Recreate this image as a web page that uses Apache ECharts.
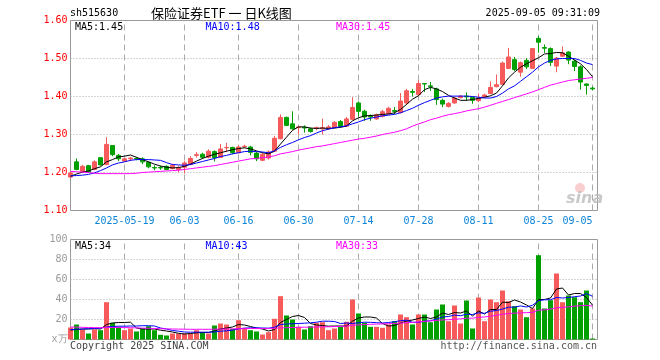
<!DOCTYPE html>
<html><head><meta charset="utf-8">
<script src="https://cdn.jsdelivr.net/npm/echarts@6/dist/echarts.min.js"></script>
<style>html,body{margin:0;padding:0;background:#fff}#c{width:660px;height:360px}</style>
</head><body><div id="c"></div>
<script>
const symbolCode = 'sh515630';
const titleText = '保险证券ETF 一 日K线图';
const timeText = '2025-09-05 09:31:09';
const dates = ['2025-05-06','2025-05-07','2025-05-08','2025-05-09','2025-05-12','2025-05-13','2025-05-14','2025-05-15','2025-05-16','2025-05-19','2025-05-20','2025-05-21','2025-05-22','2025-05-23','2025-05-26','2025-05-27','2025-05-28','2025-05-29','2025-05-30',
'2025-06-03','2025-06-04','2025-06-05','2025-06-06','2025-06-09','2025-06-10','2025-06-11','2025-06-12','2025-06-13','2025-06-16','2025-06-17','2025-06-18','2025-06-19','2025-06-20','2025-06-23','2025-06-24','2025-06-25','2025-06-26','2025-06-27','2025-06-30',
'2025-07-01','2025-07-02','2025-07-03','2025-07-04','2025-07-07','2025-07-08','2025-07-09','2025-07-10','2025-07-11','2025-07-14','2025-07-15','2025-07-16','2025-07-17','2025-07-18','2025-07-21','2025-07-22','2025-07-23','2025-07-24','2025-07-25','2025-07-28','2025-07-29','2025-07-30','2025-07-31',
'2025-08-01','2025-08-04','2025-08-05','2025-08-06','2025-08-07','2025-08-08','2025-08-11','2025-08-12','2025-08-13','2025-08-14','2025-08-15','2025-08-18','2025-08-19','2025-08-20','2025-08-21','2025-08-22','2025-08-25','2025-08-26','2025-08-27','2025-08-28','2025-08-29',
'2025-09-01','2025-09-02','2025-09-03','2025-09-04','2025-09-05'];
const tickDates = ['2025-05-19','2025-06-03','2025-06-16','2025-06-30','2025-07-14','2025-07-28','2025-08-11','2025-08-25','2025-09-05'];
const priceTicks = [1.10,1.20,1.30,1.40,1.50,1.60];
const volTicks = [0,20,40,60,80,100];

const opens = [1.188,1.228,1.203,1.218,1.208,1.239,1.221,1.271,1.245,1.230,
1.236,1.237,1.236,1.227,1.213,1.213,1.216,1.210,1.208,1.214,
1.221,1.245,1.248,1.240,1.255,1.240,1.265,1.266,1.252,1.268,
1.267,1.251,1.232,1.238,1.256,1.289,1.345,1.328,1.318,1.319,
1.315,1.316,1.315,1.317,1.318,1.334,1.322,1.340,1.383,1.361,
1.348,1.341,1.348,1.354,1.363,1.358,1.383,1.413,1.405,1.434,
1.428,1.420,1.390,1.374,1.383,1.397,1.401,1.398,1.389,1.399,
1.408,1.426,1.432,1.474,1.497,1.464,1.495,1.474,1.553,1.529,
1.526,1.480,1.506,1.517,1.493,1.478,1.433,1.422];
const closes = [1.199,1.208,1.216,1.201,1.228,1.220,1.274,1.247,1.236,1.236,
1.238,1.236,1.228,1.215,1.212,1.212,1.208,1.219,1.212,1.225,
1.237,1.247,1.240,1.256,1.239,1.262,1.266,1.252,1.267,1.269,
1.253,1.236,1.248,1.254,1.290,1.345,1.324,1.315,1.320,1.317,
1.308,1.318,1.318,1.320,1.332,1.321,1.341,1.371,1.361,1.346,
1.346,1.352,1.360,1.369,1.361,1.388,1.415,1.411,1.434,1.433,
1.426,1.392,1.380,1.382,1.396,1.401,1.399,1.390,1.396,1.404,
1.424,1.431,1.488,1.504,1.471,1.489,1.478,1.526,1.543,1.527,
1.490,1.501,1.515,1.496,1.479,1.438,1.429,1.420];
const lows = [1.184,1.206,1.199,1.200,1.206,1.218,1.219,1.243,1.230,1.228,
1.230,1.232,1.222,1.211,1.206,1.207,1.206,1.209,1.200,1.197,
1.219,1.239,1.236,1.237,1.229,1.239,1.254,1.248,1.250,1.264,
1.245,1.230,1.230,1.234,1.254,1.287,1.322,1.313,1.300,1.305,
1.305,1.311,1.300,1.312,1.316,1.318,1.320,1.338,1.348,1.336,
1.336,1.339,1.345,1.351,1.353,1.355,1.378,1.400,1.402,1.412,
1.415,1.378,1.372,1.371,1.381,1.395,1.388,1.381,1.385,1.397,
1.406,1.424,1.430,1.472,1.467,1.452,1.472,1.472,1.515,1.515,
1.480,1.464,1.504,1.485,1.467,1.418,1.405,1.416];
const highs = [1.201,1.237,1.220,1.220,1.232,1.240,1.293,1.272,1.249,1.238,
1.241,1.240,1.240,1.229,1.219,1.218,1.219,1.223,1.218,1.230,
1.243,1.254,1.252,1.261,1.258,1.275,1.278,1.268,1.271,1.273,
1.270,1.255,1.252,1.258,1.296,1.353,1.347,1.361,1.324,1.324,
1.318,1.321,1.342,1.325,1.335,1.338,1.346,1.398,1.387,1.365,
1.353,1.355,1.365,1.373,1.372,1.409,1.420,1.420,1.443,1.435,
1.438,1.423,1.394,1.385,1.398,1.404,1.411,1.400,1.408,1.407,
1.440,1.458,1.492,1.528,1.504,1.492,1.501,1.527,1.559,1.537,
1.529,1.504,1.532,1.519,1.497,1.482,1.434,1.426];
const ma5 = [1.190,1.196,1.201,1.204,1.210,1.215,1.228,1.234,1.241,1.243,
1.246,1.240,1.234,1.228,1.222,1.217,1.214,1.212,1.213,1.216,
1.222,1.230,1.237,1.243,1.248,1.252,1.256,1.260,1.263,1.265,
1.262,1.257,1.252,1.249,1.256,1.275,1.293,1.311,1.320,1.320,
1.317,1.316,1.317,1.316,1.317,1.319,1.322,1.336,1.344,1.349,
1.350,1.351,1.353,1.354,1.357,1.366,1.379,1.393,1.402,1.418,
1.424,1.420,1.413,1.403,1.396,1.390,1.390,1.392,1.395,1.398,
1.402,1.409,1.428,1.449,1.464,1.477,1.486,1.494,1.502,1.512,
1.513,1.516,1.515,1.506,1.496,1.486,1.471,1.452];
const ma10 = [1.191,1.192,1.193,1.195,1.199,1.205,1.212,1.220,1.225,1.228,
1.232,1.234,1.234,1.234,1.233,1.232,1.226,1.221,1.220,1.219,
1.221,1.225,1.229,1.233,1.237,1.242,1.245,1.249,1.252,1.255,
1.256,1.255,1.254,1.252,1.257,1.266,1.273,1.279,1.286,1.292,
1.297,1.304,1.310,1.314,1.318,1.320,1.323,1.328,1.333,1.339,
1.343,1.346,1.349,1.351,1.353,1.357,1.363,1.369,1.377,1.384,
1.390,1.396,1.399,1.401,1.401,1.401,1.401,1.400,1.398,1.396,
1.396,1.400,1.409,1.420,1.428,1.440,1.452,1.464,1.478,1.488,
1.495,1.499,1.500,1.500,1.500,1.495,1.488,1.484];
const ma30 = [1.203,1.202,1.201,1.200,1.198,1.197,1.197,1.197,1.197,1.197,
1.197,1.198,1.200,1.201,1.202,1.203,1.204,1.205,1.206,1.208,
1.210,1.212,1.214,1.216,1.218,1.221,1.224,1.227,1.230,1.233,
1.236,1.237,1.239,1.241,1.244,1.249,1.252,1.255,1.259,1.262,
1.265,1.268,1.270,1.273,1.276,1.279,1.282,1.285,1.288,1.290,
1.293,1.296,1.300,1.303,1.306,1.310,1.315,1.322,1.328,1.333,
1.339,1.343,1.348,1.352,1.355,1.358,1.362,1.365,1.368,1.372,
1.377,1.382,1.387,1.392,1.397,1.402,1.407,1.412,1.418,1.424,
1.430,1.434,1.438,1.442,1.444,1.446,1.448,1.450];
const vols = [12,15,10,6,10,9.3,37.3,16.7,12.7,9.3,
11,8,11.3,13.3,9.3,4.7,4,6,6,6,
6,9.3,7.3,6,14,16,15,10.7,19.3,11.7,
9.3,8,5,7.3,20.7,43.3,24,20,12.7,10,
13.3,16.7,17.3,9.3,11,12.7,17.7,40,26,16.7,
12.7,12.7,11.7,15,18.3,25,22.3,15,25,25,
17.3,30,35,18.3,34,16,39,11,42,18.3,
40,37.3,49,38.3,33.3,30,22.3,31,84.3,31,
39.3,66,37.3,44,42.3,37.3,49,1];
const vma5 = [9.5,10,10.5,10.5,10.8,10.5,15,16.5,17,17,
17.3,11.5,10.5,10.5,10.5,9.3,8.5,7.5,6.2,5.5,
6,6.7,7,7,8.5,10.5,11.5,12.5,15,14.5,
13,11.5,10.5,8.5,10,17,20,23,24,22,
16,14.5,14,13.3,13.5,13.5,13.5,18.3,21.5,22.5,
22.5,21.5,16,13.5,14,16.5,18.5,19.5,21,22.5,
21,22.5,26.5,25,27,26.5,28.5,23.5,28.5,25.5,
30,30,37.3,37,39.5,37.5,34.5,31,40,40,
41.5,50.5,51.5,44.5,46,46,42,34.3];
const vma10 = [10,10.2,10.5,10.8,11,11.3,12.5,13,13.3,13.3,
13.5,13.5,13.8,13.8,13.5,11.5,10.5,9,8.3,7.5,
7.3,7.3,7.3,7.3,7.5,8.3,8.7,9.3,10.7,11.3,
11.7,11.7,11.5,11.3,12.3,15,15.5,15.8,16,16.3,
16.7,17.3,18.3,18.3,18,16,16.5,16,16.8,17.3,
17.2,16.8,16.5,17,17.8,18.8,19.3,17.2,17.2,18.3,
18.7,20.5,22.5,23,24.5,23.8,25.3,25,26.7,26.2,
28.3,29,30.4,32.3,32.4,33.6,32.5,34.2,38.8,39.7,
39.8,42,41.5,42,42.8,43.5,46,43.2];
const vma30 = [12.5,12.4,12.2,12.0,11.9,11.8,12.0,12.0,12.0,11.9,
11.8,11.6,11.4,11.2,11.0,10.8,10.6,10.5,10.4,10.3,
10.2,10.2,10.2,10.2,10.3,10.4,10.5,10.6,10.8,10.9,
11.0,11.0,11.0,11.1,11.3,11.6,11.8,12.0,12.2,12.3,
12.4,12.5,12.6,12.7,12.9,13.1,13.4,14.2,14.6,14.9,
15.2,15.4,15.6,15.8,16.0,16.4,16.8,17.1,17.6,18.2,
18.6,19.1,19.6,19.8,20.4,20.6,21.3,21.3,22.2,22.5,
23.3,24.2,25.3,25.9,26.4,26.6,26.9,27.1,29.4,29.6,
30.5,31.7,32.1,32.7,33.3,33.8,34.2,33.4];

const MONO = 'DejaVu Sans Mono';
const UP = '#f65a5a', DOWN = '#00a000';
const C5 = '#000000', C10 = '#0000ff', C30 = '#ff00ff';
const GRIDC = '#aaaaaa';
const tickIdx = tickDates.map(d => dates.indexOf(d));
const isTick = i => tickIdx.indexOf(i) >= 0;
const last = dates.length - 1;
const pMin = priceTicks[0], pMax = priceTicks[priceTicks.length - 1];
const vMin = volTicks[0], vMax = volTicks[volTicks.length - 1];
const kdata = dates.map((d, i) => [opens[i], closes[i], lows[i], highs[i]]);
const volData = vols.map((v, i) => ({ value: v, itemStyle: { color: closes[i] >= opens[i] ? UP : DOWN } }));

const NO = () => ({ show: false });
const lineS = (name, data, color, xi) => ({ type: 'line', name, data, xAxisIndex: xi, yAxisIndex: xi, showSymbol: false, symbol: 'none', silent: true, lineStyle: { color, width: 1 }, z: 5 });
const guide = (ai, data, dashArr) => ({ type: 'line', xAxisIndex: ai, yAxisIndex: ai, data, showSymbol: false, symbol: 'none', silent: true, z: 1, lineStyle: { color: GRIDC, width: 1, type: dashArr } });
const txt = (x, y, text, fill, extra) => ({ type: 'text', x, y, z: 10, style: Object.assign({ text, fill, font: '10px "' + MONO + '"', textVerticalAlign: 'middle', verticalAlign: 'middle' }, extra || {}) });

// grid guide lines (dashed verticals at date ticks, dotted horizontals at value ticks)
const guides = [];
tickIdx.forEach(ix => {
  guides.push(guide(0, [[ix, pMin], [ix, pMax]], [6, 4]));
  guides.push(guide(1, [[ix, vMin], [ix, vMax]], [6, 4]));
});
priceTicks.slice(1, -1).forEach(p => guides.push(guide(2, [[0, p], [1, p]], [1, 2])));
volTicks.slice(1, -1).forEach(v => guides.push(guide(3, [[0, v], [1, v]], [1, 2])));

const chart = echarts.init(document.getElementById('c'));
chart.setOption({
  animation: false,
  grid: [
    { left: 70.5, top: 20.5, width: 522, height: 190, show: false },
    { left: 70.5, top: 239.5, width: 522, height: 100, show: false },
    { left: 70.5, top: 20.5, width: 527, height: 190, show: true, borderColor: '#999', borderWidth: 1, backgroundColor: 'rgba(0,0,0,0)' },
    { left: 70.5, top: 239.5, width: 527, height: 100, show: true, borderColor: '#999', borderWidth: 1, backgroundColor: 'rgba(0,0,0,0)' }
  ],
  xAxis: [
    { type: 'category', gridIndex: 0, data: dates, boundaryGap: false,
      axisLine: NO(), axisTick: NO(), splitLine: NO(),
      axisLabel: { interval: (i) => isTick(i), formatter: (v, i) => (i === tickIdx[0] ? v : v.slice(5)),
        color: '#0b84d8', fontFamily: MONO, fontSize: 10, margin: 6, alignMaxLabel: 'right' } },
    { type: 'category', gridIndex: 1, data: dates, boundaryGap: false,
      axisLine: NO(), axisTick: NO(), axisLabel: NO(), splitLine: NO() },
    { type: 'value', gridIndex: 2, min: 0, max: 1, axisLine: NO(), axisTick: NO(), axisLabel: NO(), splitLine: NO() },
    { type: 'value', gridIndex: 3, min: 0, max: 1, axisLine: NO(), axisTick: NO(), axisLabel: NO(), splitLine: NO() }
  ],
  yAxis: [
    { type: 'value', gridIndex: 0, min: pMin, max: pMax, axisLine: NO(), axisTick: NO(), axisLabel: NO(), splitLine: NO() },
    { type: 'value', gridIndex: 1, min: vMin, max: vMax, axisLine: NO(), axisTick: NO(), axisLabel: NO(), splitLine: NO() },
    { type: 'value', gridIndex: 2, min: pMin, max: pMax, interval: 0.1,
      axisLine: NO(), axisTick: NO(), splitLine: NO(),
      axisLabel: { color: '#ff0000', fontFamily: MONO, fontSize: 10, margin: 3, formatter: v => v.toFixed(2) } },
    { type: 'value', gridIndex: 3, min: vMin, max: vMax, interval: 20,
      axisLine: NO(), axisTick: NO(), splitLine: NO(),
      axisLabel: { color: '#999999', fontFamily: MONO, fontSize: 10, margin: 3, formatter: v => (v === 0 ? 'x万' : String(v)) } }
  ],
  series: guides.concat([
    { type: 'candlestick', xAxisIndex: 0, yAxisIndex: 0, data: kdata, barWidth: 5, clip: false, silent: true, z: 3,
      itemStyle: { color: UP, color0: DOWN, borderColor: UP, borderColor0: DOWN, borderWidth: 1 } },
    lineS('MA5', ma5, C5, 0), lineS('MA10', ma10, C10, 0), lineS('MA30', ma30, C30, 0),
    { type: 'bar', xAxisIndex: 1, yAxisIndex: 1, data: volData, barWidth: 5, clip: false, silent: true, z: 3 },
    lineS('VMA5', vma5, C5, 1), lineS('VMA10', vma10, C10, 1), lineS('VMA30', vma30, C30, 1)
  ]),
  graphic: [
    txt(70, 13, symbolCode, '#000'),
    { type: 'text', x: 151, y: 13, z: 10, style: { text: titleText, fill: '#000', font: '13px "Noto Sans CJK SC"', verticalAlign: 'middle', textVerticalAlign: 'middle' } },
    txt(600, 13, timeText, '#000', { align: 'right', textAlign: 'right' }),
    txt(75, 27, 'MA5:' + ma5[last].toFixed(2), C5),
    txt(205.5, 27, 'MA10:' + ma10[last].toFixed(2), C10),
    txt(336, 27, 'MA30:' + ma30[last].toFixed(2), C30),
    txt(75, 246, 'MA5:' + Math.round(vma5[last]), C5),
    txt(205.5, 246, 'MA10:' + Math.round(vma10[last]), C10),
    txt(336, 246, 'MA30:' + Math.round(vma30[last]), C30),
    txt(70, 346, 'Copyright 2025 SINA.COM', '#444'),
    txt(597, 346, 'http://finance.sina.com.cn', '#555', { align: 'right', textAlign: 'right' }),
    { type: 'circle', shape: { cx: 580, cy: 188, r: 5 }, style: { fill: '#f3a5a5', opacity: 0.55 }, z: 1 },
    { type: 'text', x: 566, y: 199, style: { text: 'sina', fill: '#bbbbbb', opacity: 0.8, font: 'italic bold 16px "DejaVu Sans"', verticalAlign: 'middle', textVerticalAlign: 'middle' }, z: 1 }
  ]
});
</script></body></html>
